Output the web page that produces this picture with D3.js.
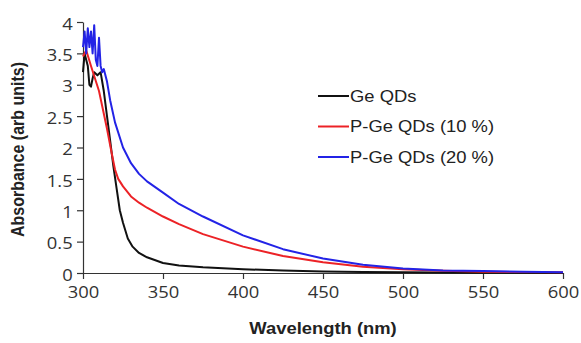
<!DOCTYPE html>
<html>
<head>
<meta charset="utf-8">
<script src="https://cdn.jsdelivr.net/npm/d3@7"></script>
<style>
  body { margin: 0; background: #fff; }
  .axis path, .axis line { stroke: #333; stroke-width: 1.2; }
  .axis text { font-family: "Open Sans", sans-serif; font-size: 16px; fill: #333; }
</style>
</head>
<body>
<svg id="chart" width="581" height="343"></svg>
<script>
// series data
let geWl = [300, 301, 302, 303, 304, 305, 306, 307, 309, 311, 313, 315, 317, 319, 321, 323, 325, 328, 331, 335, 340, 350, 360, 375, 400, 425, 450, 475, 500, 550, 600];
let geAbs = [3.2, 3.5, 3.4, 3.3, 3.0, 2.97, 3.1, 3.2, 3.15, 3.2, 2.9, 2.5, 2.1, 1.7, 1.35, 1.0, 0.8, 0.55, 0.42, 0.32, 0.25, 0.16, 0.12, 0.09, 0.06, 0.04, 0.025, 0.015, 0.01, 0.005, 0.0];

let p10Wl = [300, 302, 305, 310, 315, 318, 320, 322, 325, 330, 335, 340, 350, 360, 375, 400, 425, 450, 475, 500, 525, 550, 600];
let p10Abs = [3.45, 3.55, 3.3, 2.9, 2.3, 1.9, 1.65, 1.5, 1.38, 1.22, 1.12, 1.04, 0.9, 0.78, 0.62, 0.42, 0.27, 0.17, 0.1, 0.06, 0.035, 0.02, 0.01];

let p20Wl = [300, 301, 302, 303, 304, 305, 306, 307, 308, 309, 310, 311, 312, 313, 315, 317, 320, 325, 330, 335, 340, 350, 360, 375, 400, 425, 450, 475, 500, 525, 550, 575, 600];
let p20Abs = [3.6, 3.85, 3.5, 3.9, 3.6, 3.85, 3.5, 3.95, 3.4, 3.3, 3.75, 3.3, 3.2, 3.25, 3.05, 2.75, 2.4, 2.0, 1.75, 1.58, 1.46, 1.28, 1.1, 0.9, 0.6, 0.38, 0.23, 0.13, 0.07, 0.04, 0.03, 0.02, 0.01];

let seriesNames = ["Ge QDs", "P-Ge QDs (10 %)", "P-Ge QDs (20 %)"];
let seriesColours = ["#111111", "#ec2226", "#2323e6"];

let xTicks = [300, 350, 400, 450, 500, 550, 600];
let yTicks = [0, 0.5, 1, 1.5, 2, 2.5, 3, 3.5, 4];

let stretch = 1.15; // picture is a little wide, so text is widened too

let svg = d3.select("#chart");
let margin = {left: 83, top: 22, right: 18, bottom: 70};
let width = 581 - margin.left - margin.right;
let height = 343 - margin.top - margin.bottom;

let chart = svg.append('g')
    .attr('transform', `translate(${margin.left}, ${margin.top})`);

let xScale = d3.scaleLinear().domain([300, 600]).range([0, width]);
let yScale = d3.scaleLinear().domain([0, 4]).range([height, 0]);

//axes
let xAxis = chart.append('g')
    .attr('class', 'axis')
    .attr('transform', 'translate(0, ' + height + ')')
    .call(d3.axisBottom(xScale).tickValues(xTicks).tickSize(6).tickSizeOuter(0).tickFormat(d3.format('d')));
xAxis.selectAll('text').attr('y', 14).attr('dy', '0.71em').attr('transform', `scale(${stretch},1)`);

let yAxis = chart.append('g')
    .attr('class', 'axis')
    .call(d3.axisLeft(yScale).tickValues(yTicks).tickSize(6).tickSizeOuter(0).tickFormat(d => d3.format('')(d)));
yAxis.selectAll('text').attr('x', -9).attr('dy', '0.45em').attr('transform', `scale(${stretch},1)`);

//lines
let line = d3.line()
    .x(d => xScale(d[0]))
    .y(d => yScale(d[1]));

let allSeries = [
    d3.zip(geWl, geAbs),
    d3.zip(p10Wl, p10Abs),
    d3.zip(p20Wl, p20Abs)
];

// draw black first, blue on top
allSeries.forEach(function(s, i) {
    chart.append('path')
        .datum(s)
        .attr('d', line)
        .attr('fill', 'none')
        .attr('stroke', seriesColours[i])
        .attr('stroke-width', 2)
        .attr('stroke-linejoin', 'round');
});

//legend
let legend = svg.append('g').attr('transform', 'translate(318, 96)');
seriesNames.forEach(function(name, i) {
    let row = legend.append('g').attr('transform', `translate(0, ${i * 30.5})`);
    row.append('line')
        .attr('x1', 0).attr('x2', 31)
        .attr('y1', 0).attr('y2', 0)
        .attr('stroke', seriesColours[i])
        .attr('stroke-width', 2);
    row.append('text')
        .attr('transform', `translate(32, 0) scale(${stretch},1)`)
        .attr('dy', '0.36em')
        .attr('font-family', 'Liberation Sans, Arial, sans-serif')
        .attr('font-size', 16)
        .attr('fill', '#222')
        .text(name);
});

//labels
svg.append('text')
    .attr('transform', `translate(${margin.left + width / 2}, 334) scale(${stretch},1)`)
    .attr('text-anchor', 'middle')
    .attr('font-family', 'Liberation Sans, Arial, sans-serif')
    .attr('font-weight', 'bold')
    .attr('font-size', 16)
    .attr('fill', '#222')
    .text('Wavelength (nm)');

svg.append('text')
    .attr('transform', `translate(24, ${margin.top + height / 2 + 2}) rotate(-90) scale(1,${stretch})`)
    .attr('text-anchor', 'middle')
    .attr('font-family', 'Liberation Sans, Arial, sans-serif')
    .attr('font-weight', 'bold')
    .attr('font-size', 16)
    .attr('fill', '#222')
    .text('Absorbance (arb units)');
</script>
</body>
</html>
